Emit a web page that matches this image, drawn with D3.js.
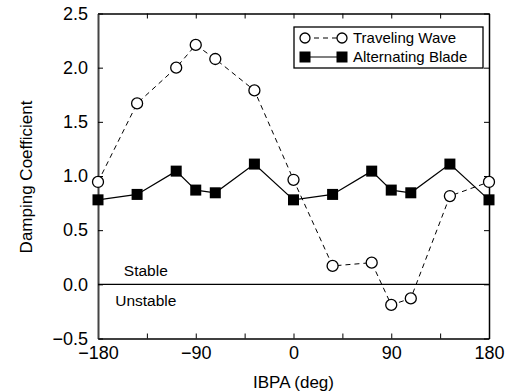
<!DOCTYPE html>
<html>
<head>
	<meta charset="UTF-8" />
	<title>damping coefficient vs IBPA</title>
	<script src="https://d3js.org/d3.v7.min.js"></script>
	<style type="text/css">
		body{margin:0; background:#fff;}
		text{font-family: Arial, "Liberation Sans", sans-serif; fill:#000;}
	</style>
</head>
<body>
	<svg id="chart"></svg>

	<script type="text/javascript">
	// data
	var ibpa = [-180, -144, -108, -90, -72, -36, 0, 36, 72, 90, 108, 144, 180]
	var travelingWave = [0.945, 1.67, 2.0, 2.21, 2.08, 1.79, 0.965, 0.17, 0.20, -0.19, -0.13, 0.815, 0.945]
	var alternatingBlade = [0.78, 0.83, 1.045, 0.87, 0.845, 1.11, 0.78, 0.83, 1.045, 0.87, 0.845, 1.11, 0.78]
	var xTicks = [-180, -90, 0, 90, 180]
	var xMinorTicks = [-180, -135, -90, -45, 0, 45, 90, 135, 180]
	var yTicks = [-0.5, 0.0, 0.5, 1.0, 1.5, 2.0, 2.5]
	var seriesNames = ["Traveling Wave", "Alternating Blade"]

	// window
	var w = 510
	var h = 392
	var margin = {top: 13.5, right: 21, bottom: 53.5, left: 98}
	var width = w - margin.left - margin.right
	var height = h - margin.top - margin.bottom

	var xScale = d3.scaleLinear().domain([-180, 180]).range([0, width])
	var yScale = d3.scaleLinear().domain([-0.5, 2.5]).range([height, 0])

	var svg = d3.select("#chart")
				.attr("width", w)
				.attr("height", h)
				.append("g")
				.attr("transform", "translate("+margin.left+","+margin.top+")")

	// axes, ticks inward, on all four sides
	var tickLen = 5
	var bottomAxis = svg.append("g")
		.attr("transform", "translate(0,"+height+")")
		.call(d3.axisBottom(xScale).tickValues(xMinorTicks).tickSizeInner(-tickLen).tickSizeOuter(0)
			.tickPadding(8).tickFormat(d=>xTicks.indexOf(d) >= 0 ? d3.format("d")(d) : ""))
	var topAxis = svg.append("g")
		.call(d3.axisTop(xScale).tickValues(xMinorTicks).tickSizeInner(-tickLen).tickSizeOuter(0).tickFormat(""))
	var leftAxis = svg.append("g")
		.call(d3.axisLeft(yScale).tickValues(yTicks).tickSizeInner(-tickLen).tickSizeOuter(0)
			.tickPadding(10).tickFormat(d3.format(".1f")))
	var rightAxis = svg.append("g")
		.attr("transform", "translate("+width+",0)")
		.call(d3.axisRight(yScale).tickValues(yTicks).tickSizeInner(-tickLen).tickSizeOuter(0).tickFormat(""))

	svg.selectAll(".domain").attr("stroke", "#000").attr("stroke-width", 1.5)
	leftAxis.select(".domain").attr("stroke", "#444").attr("stroke-width", 2)
	svg.selectAll(".tick line").attr("stroke", "#000").attr("stroke-width", 1)
	bottomAxis.selectAll("text").style("font-size", "18px").attr("dy", "0.71em")
	leftAxis.selectAll("text").style("font-size", "18px")
	svg.selectAll(".tick text").style("font-family", "Arial, 'Liberation Sans', sans-serif").attr("fill", "#000")

	// zero line
	svg.append("line")
		.attr("x1", 0).attr("x2", width)
		.attr("y1", yScale(0)).attr("y2", yScale(0))
		.attr("stroke", "#000").attr("stroke-width", 1.3)

	svg.append("text").attr("x", xScale(-136)).attr("y", yScale(0) - 8)
		.attr("text-anchor", "middle").style("font-size", "15.5px").text("Stable")
	svg.append("text").attr("x", xScale(-136)).attr("y", yScale(0) + 22)
		.attr("text-anchor", "middle").style("font-size", "15.5px").text("Unstable")

	// lines
	var line = d3.line().x(d=>xScale(d[0])).y(d=>yScale(d[1]))
	var twData = ibpa.map((d, i)=>[d, travelingWave[i]])
	var abData = ibpa.map((d, i)=>[d, alternatingBlade[i]])

	svg.append("path").datum(twData)
		.attr("d", line).attr("fill", "none").attr("stroke", "#000")
		.attr("stroke-width", 1).attr("stroke-dasharray", "5,4")
	svg.append("path").datum(abData)
		.attr("d", line).attr("fill", "none").attr("stroke", "#000").attr("stroke-width", 1.2)

	var sq = 11
	svg.selectAll(".sq").data(abData).enter().append("rect")
		.attr("class", "sq")
		.attr("x", d=>xScale(d[0]) - sq/2).attr("y", d=>yScale(d[1]) - sq/2)
		.attr("width", sq).attr("height", sq).attr("fill", "#000")
	svg.selectAll(".circ").data(twData).enter().append("circle")
		.attr("class", "circ")
		.attr("cx", d=>xScale(d[0])).attr("cy", d=>yScale(d[1])).attr("r", 5.5)
		.attr("fill", "#fff").attr("stroke", "#000").attr("stroke-width", 1.3)

	// legend
	var lg = svg.append("g").attr("transform", "translate("+(294 - margin.left)+","+(27 - margin.top)+")")
	lg.append("rect").attr("width", 189).attr("height", 41)
		.attr("fill", "#fff").attr("stroke", "#000").attr("stroke-width", 1.3)
	var row1 = 11, row2 = 30
	lg.append("line").attr("x1", 11).attr("x2", 48).attr("y1", row1).attr("y2", row1)
		.attr("stroke", "#000").attr("stroke-width", 1).attr("stroke-dasharray", "5,4")
	lg.selectAll(".lc").data([11, 48]).enter().append("circle")
		.attr("cx", d=>d).attr("cy", row1).attr("r", 5)
		.attr("fill", "#fff").attr("stroke", "#000").attr("stroke-width", 1.3)
	lg.append("line").attr("x1", 11).attr("x2", 48).attr("y1", row2).attr("y2", row2)
		.attr("stroke", "#000").attr("stroke-width", 1.2)
	lg.selectAll(".ls").data([11, 48]).enter().append("rect")
		.attr("x", d=>d - 5.5).attr("y", row2 - 5.5).attr("width", 11).attr("height", 11).attr("fill", "#000")
	lg.selectAll(".lt").data(seriesNames).enter().append("text")
		.attr("x", 59).attr("y", (d, i)=>i ? row2 : row1).attr("dy", "0.36em")
		.style("font-size", "15px").text(d=>d)

	// axis titles
	svg.append("text").attr("x", width/2).attr("y", height + 49)
		.attr("text-anchor", "middle").style("font-size", "17px").text("IBPA (deg)")
	svg.append("text").attr("transform", "translate("+(-margin.left + 32)+","+(height/2 + 1)+") rotate(-90)")
		.attr("text-anchor", "middle").style("font-size", "17px").text("Damping Coefficient")
	</script>
</body>
</html>
